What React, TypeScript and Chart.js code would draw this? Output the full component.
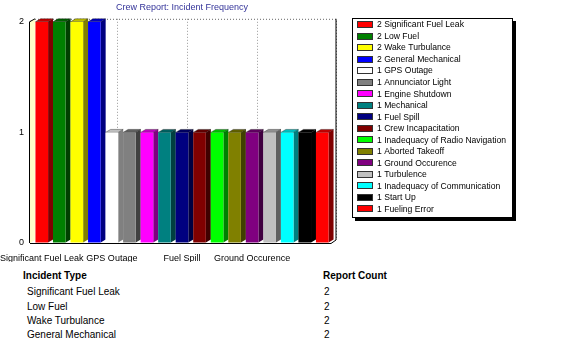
import React, { useEffect, useRef } from "react";
import { Chart, registerables } from "chart.js";

Chart.register(...registerables);

const chartTitle = "Crew Report: Incident Frequency";

const categories = [
  "Significant Fuel Leak",
  "Low Fuel",
  "Wake Turbulance",
  "General Mechanical",
  "GPS Outage",
  "Annunciator Light",
  "Engine Shutdown",
  "Mechanical",
  "Fuel Spill",
  "Crew Incapacitation",
  "Inadequacy of Radio Navigation",
  "Aborted Takeoff",
  "Ground Occurence",
  "Turbulence",
  "Inadequacy of Communication",
  "Start Up",
  "Fueling Error",
];

const counts = [2, 2, 2, 2, 1, 1, 1, 1, 1, 1, 1, 1, 1, 1, 1, 1, 1];

const barColors = [
  "#FF0000",
  "#008000",
  "#FFFF00",
  "#0000FF",
  "#FFFFFF",
  "#808080",
  "#FF00FF",
  "#008080",
  "#000080",
  "#800000",
  "#00FF00",
  "#808000",
  "#800080",
  "#C0C0C0",
  "#00FFFF",
  "#000000",
  "#FF0000",
];

const yTicks = [0, 1, 2];
const xLabelEvery = 4;
const xLabelLast = 12;

const tableHeaders = ["Incident Type", "Report Count"];
const tableRowCount = 4;

const DX = 5;
const DY = 3;
const WALL = 3;
const FONT = "Arial, 'Liberation Sans', sans-serif";

function shade(hex: string, f: number): string {
  const n = parseInt(hex.slice(1), 16);
  const r = Math.round(((n >> 16) & 255) * f);
  const g = Math.round(((n >> 8) & 255) * f);
  const b = Math.round((n & 255) * f);
  return `rgb(${r},${g},${b})`;
}

const threeD = {
  id: "threeD",
  beforeDatasetsDraw(chart: any) {
    const { ctx, chartArea } = chart;
    const { right, top, bottom } = chartArea;
    const left = chartArea.left - WALL;
    const xs = chart.scales.x;
    ctx.save();
    // left wall
    ctx.fillStyle = "#FFFFC8";
    ctx.beginPath();
    ctx.moveTo(left, top);
    ctx.lineTo(left + DX, top - DY);
    ctx.lineTo(left + DX, bottom - DY);
    ctx.lineTo(left, bottom);
    ctx.closePath();
    ctx.fill();
    ctx.strokeStyle = "#000";
    ctx.lineWidth = 1;
    ctx.beginPath();
    ctx.moveTo(left - 0.5, bottom);
    ctx.lineTo(left - 0.5, top);
    ctx.lineTo(left + DX, top - DY);
    ctx.stroke();
    // back wall dotted frame
    ctx.setLineDash([1, 2]);
    ctx.strokeStyle = "#666";
    ctx.beginPath();
    ctx.moveTo(left + DX, top - DY + 0.5);
    ctx.lineTo(right + DX + 0.5, top - DY + 0.5);
    ctx.lineTo(right + DX + 0.5, bottom - DY);
    ctx.stroke();
    // vertical grid lines on back wall
    ctx.strokeStyle = "#999";
    for (let i = xLabelEvery; i <= xLabelLast; i += xLabelEvery) {
      const x = Math.round(xs.getPixelForTick(i) + DX) + 0.5;
      ctx.beginPath();
      ctx.moveTo(x, top - DY);
      ctx.lineTo(x, bottom - DY);
      ctx.stroke();
    }
    ctx.setLineDash([]);
    // floor
    ctx.strokeStyle = "#000";
    ctx.beginPath();
    ctx.moveTo(left, bottom + 0.5);
    ctx.lineTo(right, bottom + 0.5);
    ctx.lineTo(right + DX, bottom - DY);
    ctx.lineTo(right + DX, top - DY);
    ctx.stroke();
    // bar sides and tops
    const meta = chart.getDatasetMeta(0);
    meta.data.forEach((bar: any, i: number) => {
      const p = bar.getProps(["x", "y", "width", "base"], true);
      const l = p.x - p.width / 2;
      const r = p.x + p.width / 2;
      const c = barColors[i];
      ctx.fillStyle = shade(c, 0.5);
      ctx.beginPath();
      ctx.moveTo(r, p.y);
      ctx.lineTo(r + DX, p.y - DY);
      ctx.lineTo(r + DX, p.base - DY);
      ctx.lineTo(r, p.base);
      ctx.closePath();
      ctx.fill();
      ctx.fillStyle = shade(c, 0.75);
      ctx.beginPath();
      ctx.moveTo(l, p.y);
      ctx.lineTo(l + DX, p.y - DY);
      ctx.lineTo(r + DX, p.y - DY);
      ctx.lineTo(r, p.y);
      ctx.closePath();
      ctx.fill();
      ctx.strokeStyle = "rgba(0,0,0,0.6)";
      ctx.lineWidth = 0.6;
      ctx.stroke();
    });
    ctx.restore();
  },
};

const boxedLegend = {
  id: "boxedLegend",
  afterDraw(chart: any) {
    const { ctx } = chart;
    const bx = 352;
    const by = 18;
    const bw = 161;
    const bh = 200;
    ctx.save();
    ctx.fillStyle = "#000";
    ctx.fillRect(bx + 3, by + 3, bw, bh);
    ctx.fillStyle = "#fff";
    ctx.fillRect(bx, by, bw, bh);
    ctx.strokeStyle = "#000";
    ctx.lineWidth = 1;
    ctx.strokeRect(bx + 0.5, by + 0.5, bw - 1, bh - 1);
    ctx.font = `8.6px ${FONT}`;
    ctx.textBaseline = "middle";
    ctx.textAlign = "left";
    categories.forEach((name, i) => {
      const cy = 24.5 + i * 11.53;
      ctx.fillStyle = barColors[i];
      ctx.fillRect(357, Math.round(cy - 3.5), 16, 7);
      ctx.strokeStyle = "#333";
      ctx.strokeRect(357.5, Math.round(cy - 3.5) + 0.5, 15, 6);
      ctx.fillStyle = "#000";
      ctx.fillText(`${counts[i]} ${name}`, 377, cy + 0.5);
    });
    ctx.restore();
  },
};

function App() {
  const ref = useRef<HTMLCanvasElement | null>(null);

  useEffect(() => {
    if (!ref.current) return;
    const chart = new Chart(ref.current, {
      type: "bar",
      data: {
        labels: categories,
        datasets: [
          {
            data: counts,
            backgroundColor: barColors,
            borderWidth: 0,
            barPercentage: 0.72,
            categoryPercentage: 1,
          },
        ],
      },
      options: {
        responsive: false,
        animation: false,
        devicePixelRatio: 1,
        layout: { padding: { left: 0, right: 245, top: 0, bottom: 0 } },
        plugins: {
          legend: { display: false },
          tooltip: { enabled: false },
          title: {
            display: true,
            text: chartTitle,
            color: "#333399",
            fullSize: false,
            font: { family: FONT, size: 9, weight: "normal" },
            padding: { top: 2, bottom: 9 },
          },
        },
        scales: {
          x: {
            grid: { display: false },
            border: { display: false },
            ticks: {
              autoSkip: false,
              maxRotation: 0,
              minRotation: 0,
              padding: 2,
              color: "#000",
              font: { family: FONT, size: 9 },
              callback: (_v: any, i: number) =>
                i % xLabelEvery === 0 && i <= xLabelLast ? categories[i] : "",
            },
            afterFit: (s: any) => {
              s.height = 19;
              s.paddingLeft = 0;
              s.paddingRight = 0;
            },
          },
          y: {
            min: 0,
            max: 2,
            border: { display: false },
            grid: {
              drawOnChartArea: false,
              drawTicks: true,
              tickLength: 3,
              tickColor: "#000",
            },
            ticks: {
              padding: 6,
              color: "#000",
              font: { family: FONT, size: 9 },
            },
            afterBuildTicks: (s: any) => {
              s.ticks = yTicks.map((v) => ({ value: v }));
            },
            afterFit: (s: any) => {
              s.width = 33;
            },
          },
        },
      },
      plugins: [threeD, boxedLegend],
    });
    return () => chart.destroy();
  }, []);

  const rowTop = [286, 300.5, 315, 329];

  return (
    <div
      style={{
        position: "absolute",
        left: 0,
        top: 0,
        width: 576,
        height: 360,
        background: "#fff",
        fontFamily: FONT,
        overflow: "hidden",
      }}
    >
      <canvas
        ref={ref}
        width={576}
        height={262}
        style={{ position: "absolute", left: 0, top: 0, width: 576, height: 262 }}
      />
      <div style={{ position: "absolute", left: 23, top: 270, fontSize: 10, lineHeight: "12px", fontWeight: "bold" }}>
        {tableHeaders[0]}
      </div>
      <div style={{ position: "absolute", left: 323, top: 270, fontSize: 10, lineHeight: "12px", fontWeight: "bold" }}>
        {tableHeaders[1]}
      </div>
      {categories.slice(0, tableRowCount).map((name, i) => (
        <React.Fragment key={name}>
          <div style={{ position: "absolute", left: 27, top: rowTop[i], fontSize: 10, lineHeight: "12px" }}>{name}</div>
          <div style={{ position: "absolute", left: 324, top: rowTop[i], fontSize: 10, lineHeight: "12px" }}>
            {counts[i]}
          </div>
        </React.Fragment>
      ))}
    </div>
  );
}

export default App;
